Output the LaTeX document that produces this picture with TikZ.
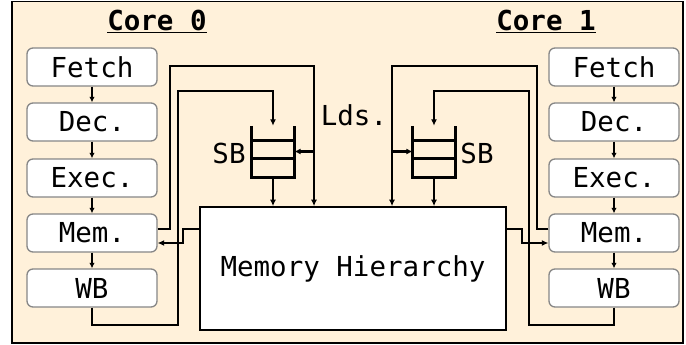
\documentclass[tikz,border=0pt]{standalone}
\usepackage{fontspec}
\setmonofont{DejaVu Sans Mono}
\usetikzlibrary{arrows.meta,calc}
\definecolor{corebg}{RGB}{255,241,218}
\definecolor{stageedge}{RGB}{135,135,135}

\begin{document}
\begin{tikzpicture}[x=1pt,y=-1pt,
  txt/.style={font=\ttfamily\fontsize{27.5}{30}\selectfont, inner sep=0pt},
  stage/.style={txt, draw=stageedge, line width=1.3pt, fill=white,
    rounded corners=6pt, minimum width=130pt, minimum height=38pt},
  hier/.style={txt, draw, line width=1.6pt, fill=white,
    minimum width=306pt, minimum height=123pt},
  title/.style={txt, font=\ttfamily\bfseries\fontsize{27.5}{30}\selectfont},
  sbox/.style={minimum width=42pt, minimum height=51pt, inner sep=0pt},
  sbline/.style={line width=3.2pt},
  pipe/.style={line width=1.8pt, -{Latex[length=5.5pt,width=5.5pt]}},
  wire/.style={line width=2.4pt, -{Latex[length=6.5pt,width=6pt]}}]

\useasboundingbox (0,0) rectangle (686,345);
\draw[fill=corebg, line width=1.3pt] (12,1.5) rectangle (683,343);

% core titles
\node[title] (t0) at (157,21) {\underline{Core 0}};
\node[title] (t1) at (546,21) {\underline{Core 1}};

% pipeline of core 0
\node[stage] (f0) at (92,67)  {Fetch};
\node[stage] (d0) at (92,122) {Dec.};
\node[stage] (e0) at (92,178) {Exec.};
\node[stage] (m0) at (92,233) {Mem.};
\node[stage] (w0) at (92,288) {WB};
% pipeline of core 1
\node[stage] (f1) at (614,67)  {Fetch};
\node[stage] (d1) at (614,122) {Dec.};
\node[stage] (e1) at (614,178) {Exec.};
\node[stage] (m1) at (614,233) {Mem.};
\node[stage] (w1) at (614,288) {WB};

\foreach \c in {0,1}{
  \draw[pipe] (f\c) -- (d\c);
  \draw[pipe] (d\c) -- (e\c);
  \draw[pipe] (e\c) -- (m\c);
  \draw[pipe] (m\c) -- (w\c);
}

% shared memory hierarchy
\node[hier] (mh) at (353,268.5) {Memory Hierarchy};

% store buffers
\node[sbox] (sb0) at (273,151.5) {};
\node[sbox] (sb1) at (434,151.5) {};
\foreach \s in {sb0,sb1}{
  \draw[sbline] (\s.north west) -- (\s.south west) -- (\s.south east) -- (\s.north east);
  \draw[sbline] ([yshift=-15pt]\s.north west) -- ([yshift=-15pt]\s.north east);
  \draw[sbline] ([yshift=-33pt]\s.north west) -- ([yshift=-33pt]\s.north east);
}
\node[txt] (sbl0) at (229,153) {SB};
\node[txt] (sbl1) at (477,153) {SB};
\node[txt] (lds) at (354,115) {Lds.};

% bend points of the core 0 wiring
\coordinate (a0) at (170,66);
\coordinate (ld0) at (314,66);
\coordinate (b0) at (178,325);
\coordinate (c0) at (178,91);
\coordinate (h0) at (200,229);
\coordinate (k0) at (183,229);
\coordinate (q0) at (183,243);
% bend points of the core 1 wiring
\coordinate (a1) at (537,66);
\coordinate (ld1) at (392,66);
\coordinate (b1) at (529,325);
\coordinate (c1) at (529,91);
\coordinate (h1) at (506,229);
\coordinate (k1) at (522,229);
\coordinate (q1) at (522,243);

% core 0: loads and stores from Mem.
\draw[wire] ([yshift=4pt]m0.east) -| (a0) -- (ld0) -- (ld0 |- mh.north);
\draw[wire] (ld0 |- sb0.east) -- (sb0.east);
% core 0: write-back into the store buffer
\draw[wire] (w0.south) |- (b0) -- (c0) -| (sb0.north);
% core 0: store buffer drains to memory
\draw[wire] (sb0.south) -- (sb0.south |- mh.north);
% core 0: load data returned to Mem.
\draw[wire] (h0) -- (k0) -- (q0) -- (m0.east |- q0);

% core 1: loads and stores from Mem.
\draw[wire] ([yshift=4pt]m1.west) -| (a1) -- (ld1) -- (ld1 |- mh.north);
\draw[wire] (ld1 |- sb1.west) -- (sb1.west);
% core 1: write-back into the store buffer
\draw[wire] (w1.south) |- (b1) -- (c1) -| (sb1.north);
% core 1: store buffer drains to memory
\draw[wire] (sb1.south) -- (sb1.south |- mh.north);
% core 1: load data returned to Mem.
\draw[wire] (h1) -- (k1) -- (q1) -- (m1.west |- q1);
\end{tikzpicture}
\end{document}
